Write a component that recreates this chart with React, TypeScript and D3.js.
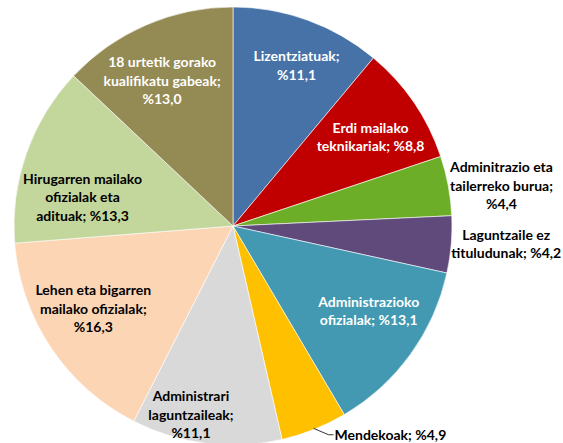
import * as d3 from "d3"

const categories = [
  "Lizentziatuak",
  "Erdi mailako teknikariak",
  "Adminitrazio eta tailerreko burua",
  "Laguntzaile ez tituludunak",
  "Administrazioko ofizialak",
  "Mendekoak",
  "Administrari laguntzaileak",
  "Lehen eta bigarren mailako ofizialak",
  "Hirugarren mailako ofizialak eta adituak",
  "18 urtetik gorako kualifikatu gabeak",
]
const values = [11.1, 8.8, 4.4, 4.2, 13.1, 4.9, 11.1, 16.3, 13.3, 13.0]
const valueLabels = ["%11,1", "%8,8", "%4,4", "%4,2", "%13,1", "%4,9", "%11,1", "%16,3", "%13,3", "%13,0"]
// how the label text wraps, as in the original chart
const labelLines = [
  ["Lizentziatuak;", "%11,1"],
  ["Erdi mailako", "teknikariak; %8,8"],
  ["Adminitrazio eta", "tailerreko burua;", "%4,4"],
  ["Laguntzaile ez", "tituludunak; %4,2"],
  ["Administrazioko", "ofizialak; %13,1"],
  ["Mendekoak; %4,9"],
  ["Administrari", "laguntzaileak;", "%11,1"],
  ["Lehen eta bigarren", "mailako ofizialak;", "%16,3"],
  ["Hirugarren mailako", "ofizialak eta", "adituak; %13,3"],
  ["18 urtetik gorako", "kualifikatu gabeak;", "%13,0"],
]

const colors = [
  "#4672A8",
  "#C00000",
  "#6CAE27",
  "#604A7B",
  "#4299B1",
  "#FFC000",
  "#D9D9D9",
  "#FCD5B5",
  "#C3D69B",
  "#948A54",
]
const textColors = ["#fff", "#fff", "#000", "#000", "#fff", "#000", "#000", "#000", "#000", "#fff"]
// label distance from centre (fraction of radius) and small angle nudge in degrees
const labelRadius = [0.79, 0.75, 1.24, 1.25, 0.73, 1.06, 0.88, 0.74, 0.7, 0.74]
const labelNudge = [1.6, 1.2, 2, -1.2, -4, -4.2, 5.6, 3.3, -8.4, -2.6]

const width = 563
const height = 443
const cx = 233
const cy = 226
const r = 219
const lineH = 18.5

export default function App() {
  const pie = d3
    .pie<number>()
    .sort(null)
    .value((d) => d)
  const arcs = pie(values)
  const arc = d3.arc<d3.PieArcDatum<number>>().innerRadius(0).outerRadius(r)

  const pointAt = (angle: number, rad: number): [number, number] => [
    Math.sin(angle) * rad,
    -Math.cos(angle) * rad,
  ]

  return (
    <div style={{ position: "fixed", left: 0, top: 0, background: "#fff" }}>
      <svg width={width} height={height} style={{ display: "block" }}>
        <g transform={`translate(${cx},${cy})`}>
          {arcs.map((a, i) => (
            <path key={categories[i]} d={arc(a) ?? ""} fill={colors[i]} stroke="#fff" strokeWidth={0.6} />
          ))}
          {arcs.map((a, i) => {
            const mid = (a.startAngle + a.endAngle) / 2
            const ang = mid + (labelNudge[i] * Math.PI) / 180
            const [lx, ly] = pointAt(ang, r * labelRadius[i])
            const lines = labelLines[i]
            const isLeader = categories[i] === "Mendekoak"
            if (isLeader) {
              const [sx, sy] = pointAt(mid, r * 0.995)
              return (
                <g key={categories[i]}>
                  <polyline
                    points={`${sx},${sy} ${lx - 6},${ly} ${lx - 1},${ly}`}
                    fill="none"
                    stroke="#000"
                    strokeWidth={0.8}
                  />
                  <text
                    x={lx}
                    y={ly}
                    dominantBaseline="central"
                    fontFamily="Lato, 'Open Sans', sans-serif"
                    fontWeight="bold"
                    fontSize={14}
                    fill={textColors[i]}
                  >
                    {lines[0]}
                  </text>
                </g>
              )
            }
            const y0 = ly - ((lines.length - 1) * lineH) / 2
            return (
              <text
                key={categories[i]}
                textAnchor="middle"
                fontFamily="Lato, 'Open Sans', sans-serif"
                fontWeight="bold"
                fontSize={14}
                fill={textColors[i]}
                data-value={valueLabels[i]}
              >
                {lines.map((t, j) => (
                  <tspan key={j} x={lx} y={y0 + j * lineH} dominantBaseline="central">
                    {t}
                  </tspan>
                ))}
              </text>
            )
          })}
        </g>
      </svg>
    </div>
  )
}
